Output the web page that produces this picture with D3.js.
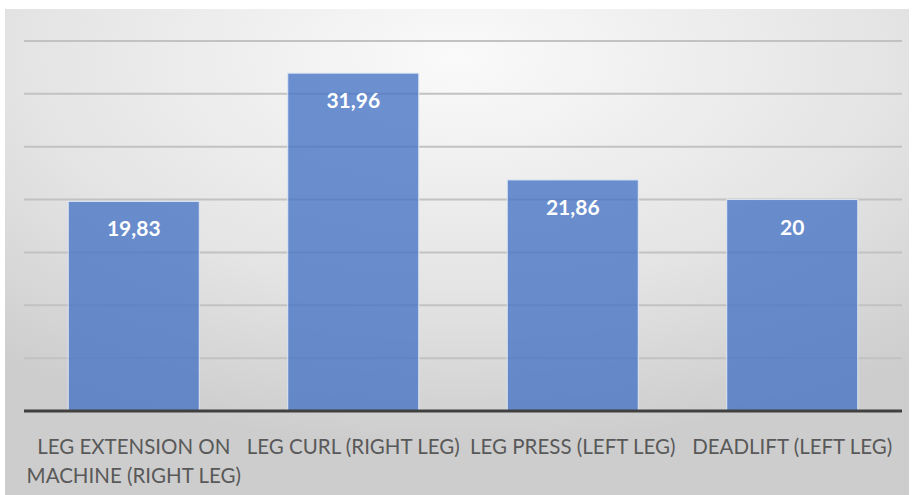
<!DOCTYPE html>
<html>
<head>
<meta charset="utf-8">
<script src="https://cdn.jsdelivr.net/npm/d3@7"></script>
<style>
  body { margin: 0; background: white; }
</style>
</head>
<body>
<script>

var categories = [
  ["LEG EXTENSION ON", "MACHINE (RIGHT LEG)"],
  ["LEG CURL (RIGHT LEG)"],
  ["LEG PRESS (LEFT LEG)"],
  ["DEADLIFT (LEFT LEG)"]
];
var values = [19.83, 31.96, 21.86, 20];
var valueLabels = ["19,83", "31,96", "21,86", "20"];
var gridTicks = [0, 5, 10, 15, 20, 25, 30, 35];

var svg_width = 912, svg_height = 495;
var plot = { left: 24, right: 902, top: 41, bottom: 411 };

function start()
{
  var svg = d3.select("body").append("svg")
              .attr("width", svg_width)
              .attr("height", svg_height);

  // background gradient
  var defs = svg.append("defs");
  var grad = defs.append("radialGradient")
                 .attr("id", "bg_grad")
                 .attr("cx", "50%").attr("cy", "10%")
                 .attr("r", "80%");
  grad.append("stop").attr("offset", "0%").attr("stop-color", "#fafafa");
  grad.append("stop").attr("offset", "60%").attr("stop-color", "#e4e4e4");
  grad.append("stop").attr("offset", "100%").attr("stop-color", "#cdcdcd");

  svg.append("rect").attr("x", 5).attr("y", 9)
                    .attr("width", 904).attr("height", 486)
                    .style("fill", "url(#bg_grad)");

  var xScale = d3.scaleBand()
                 .domain(d3.range(values.length))
                 .range([plot.left, plot.right])
                 .paddingInner(0.403)
                 .paddingOuter(0.2015);

  var yScale = d3.scaleLinear()
                 .domain([0, 35])
                 .range([plot.bottom, plot.top]);

  // gridlines
  svg.append("g").selectAll("line")
     .data(gridTicks.slice(1))
     .enter().append("line")
     .attr("x1", plot.left).attr("x2", plot.right)
     .attr("y1", d => yScale(d)).attr("y2", d => yScale(d))
     .style("stroke", "#c2c2c2")
     .style("stroke-width", 2);

  // bars
  svg.append("g").selectAll("rect")
     .data(values)
     .enter().append("rect")
     .attr("x", (d, i) => xScale(i))
     .attr("y", d => yScale(d))
     .attr("width", xScale.bandwidth())
     .attr("height", d => yScale(0) - yScale(d))
     .style("fill", "#4472c4")
     .style("fill-opacity", 0.78)
     .style("stroke", "#dfe7f5")
     .style("stroke-width", 1);

  // value labels
  svg.append("g").selectAll("text")
     .data(values)
     .enter().append("text")
     .attr("x", (d, i) => xScale(i) + xScale.bandwidth() / 2)
     .attr("y", d => yScale(d) + 35)
     .attr("text-anchor", "middle")
     .style("font-family", "Lato, 'Open Sans', sans-serif")
     .style("font-weight", "bold")
     .style("font-size", "21px")
     .style("fill", "white")
     .text((d, i) => valueLabels[i]);

  // x axis line
  var xAxis = d3.axisBottom(xScale).tickSize(0).tickFormat("");
  var axisG = svg.append("g")
                 .attr("transform", "translate(0," + plot.bottom + ")")
                 .call(xAxis);
  axisG.select(".domain")
       .attr("d", "M" + plot.left + ",0H" + plot.right)
       .style("stroke", "#404040")
       .style("stroke-width", 3);

  // category labels
  var labels = svg.append("g").selectAll("text")
                  .data(categories)
                  .enter().append("text")
                  .attr("text-anchor", "middle")
                  .style("font-family", "Lato, 'Open Sans', sans-serif")
                  .style("font-size", "20.5px")
                  .style("fill", "#595959");
  labels.each(function(lines, i)
  {
    var t = d3.select(this);
    lines.forEach(function(line, j)
    {
      t.append("tspan")
       .attr("x", xScale(i) + xScale.bandwidth() / 2)
       .attr("y", 454 + j * 29)
       .text(line);
    });
  });
}

start();
</script>
</body>
</html>
